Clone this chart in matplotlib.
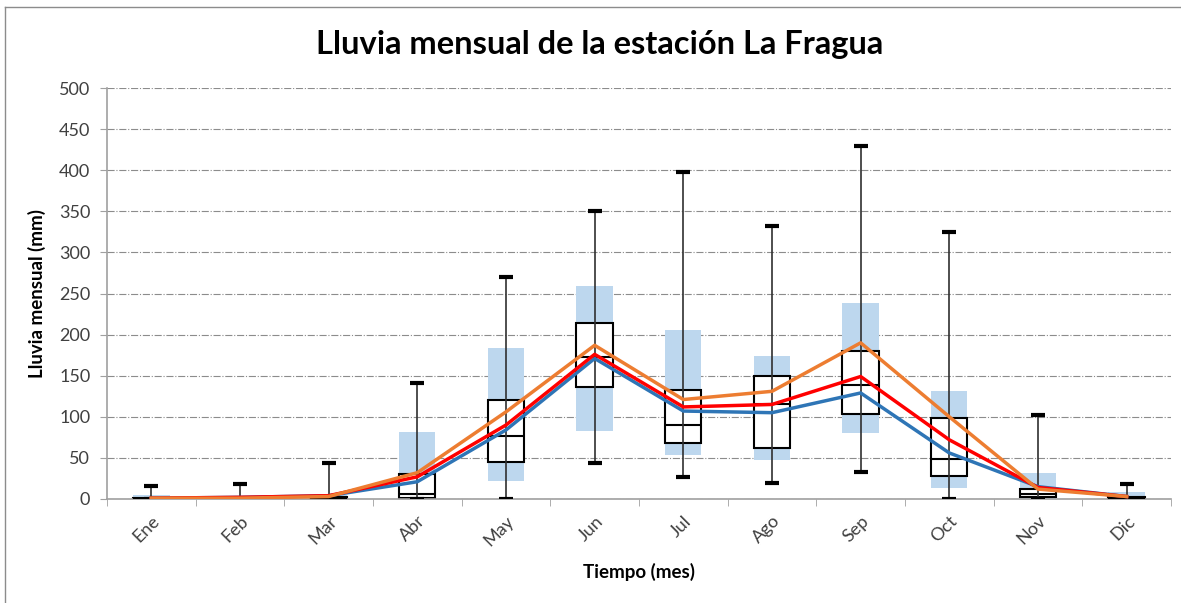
import matplotlib
matplotlib.use("Agg")
import matplotlib.pyplot as plt
from matplotlib.lines import Line2D
import numpy as np

plt.rcParams['font.family'] = ['Lato', 'DejaVu Sans']

# datos (mm)
meses = ['Ene', 'Feb', 'Mar', 'Abr', 'May', 'Jun', 'Jul', 'Ago', 'Sep', 'Oct', 'Nov', 'Dic']
maximo = [16, 18, 44, 141, 270, 350, 398, 332, 429, 325, 102, 18]
minimo = [0, 0, 0, 0, 0, 44, 27, 19, 33, 0, 0, 0]
q3 = [1, 1, 2, 30, 121, 214, 132, 150, 180, 99, 12, 3]
mediana = [0.5, 0.5, 1, 6, 77, 173, 90, 115, 139, 49, 6, 1]
q1 = [0, 0, 0, 1, 45, 136, 68, 62, 104, 28, 3, 0]
banda_sup = [5, 3, 5, 81, 184, 259, 205, 174, 239, 131, 32, 9]
banda_inf = [0, 0, 0, 0, 22, 83, 53, 48, 80, 13, 0, 0]
serie_azul = [1, 2, 4, 21, 84, 171, 107, 105, 129, 56, 15, 3]
serie_roja = [1, 2, 4, 27, 90, 176, 112, 115, 149, 72, 14, 3]
serie_naranja = [1, 1, 3, 32, 106, 187, 121, 131, 190, 100, 12, 3]

x = np.arange(len(meses))
ancho = 0.41
cap = 0.08

fig = plt.figure(figsize=(11.81, 6.03), dpi=100)
ax = fig.add_axes([0.0906, 0.1725, 0.9009, 0.6815])

# banda azul
ax.bar(x, np.array(banda_sup) - np.array(banda_inf), bottom=banda_inf, width=ancho,
       color='#BDD7EE', zorder=1)

# caja
ax.bar(x, np.array(q3) - np.array(q1), bottom=q1, width=ancho, facecolor='white',
       edgecolor='black', linewidth=1.5, zorder=2)
ax.hlines(mediana, x - ancho / 2, x + ancho / 2, color='black', linewidth=1.5, zorder=3)

# bigotes
ax.vlines(x, minimo, maximo, color='#303030', linewidth=1.2, zorder=3)
ax.hlines(maximo, x - cap, x + cap, color='black', linewidth=3, zorder=4)
ax.hlines(minimo, x - cap, x + cap, color='black', linewidth=3, zorder=4)

# series
ax.plot(x, serie_azul, color='#2E75B6', linewidth=2.5, zorder=5)
ax.plot(x, serie_roja, color='#FF0000', linewidth=2.5, zorder=6)
ax.plot(x, serie_naranja, color='#ED7D31', linewidth=2.5, zorder=7)

ax.set_xlim(-0.5, len(meses) - 0.5)
ax.set_ylim(0, 500)
ax.set_yticks(range(0, 501, 50))
ax.set_xticks(x)
ax.set_xticklabels(meses, rotation=45, ha='right', va='top', rotation_mode='anchor',
                   fontsize=13, color='#404040')
ax.set_xticks(np.arange(-0.5, len(meses), 1), minor=True)
ax.tick_params(axis='x', which='major', length=0, pad=10)
ax.tick_params(axis='x', which='minor', length=5, color='#A0A0A0', direction='out')
ax.tick_params(axis='y', length=5, color='#A0A0A0', labelsize=13, labelcolor='#404040', pad=7)

ax.grid(axis='y', linestyle='-.', color='#8C8C8C', linewidth=0.8, zorder=0)
ax.set_axisbelow(True)
for s in ['top', 'right']:
    ax.spines[s].set_visible(False)
for s in ['left', 'bottom']:
    ax.spines[s].set_color('#A0A0A0')
    ax.spines[s].set_linewidth(1.2)

ax.set_xlabel('Tiempo (mes)', fontsize=13.5, fontweight='bold', labelpad=10)
ax.set_ylabel('Lluvia mensual (mm)', fontsize=13.5, fontweight='bold', labelpad=9)
fig.suptitle('Lluvia mensual de la estación La Fragua', fontsize=23.5, fontweight='bold',
             x=0.508, y=0.95)

# marco del grafico
fig.add_artist(Line2D([5 / 1181, 5 / 1181], [0, 1 - 7 / 603], transform=fig.transFigure,
                      color='#8C8C8C', linewidth=1))
fig.add_artist(Line2D([5 / 1181, 1], [1 - 7 / 603, 1 - 7 / 603], transform=fig.transFigure,
                      color='#8C8C8C', linewidth=1))

fig.savefig('out.png', dpi=100)
